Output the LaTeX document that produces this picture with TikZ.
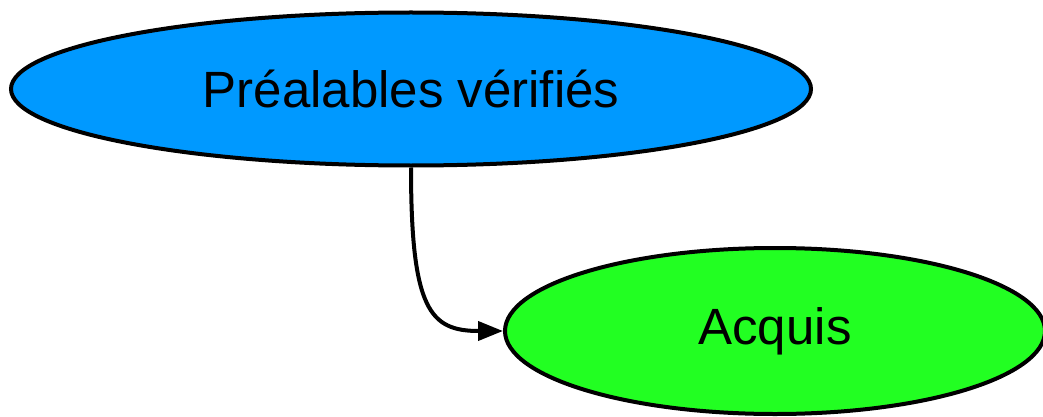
\documentclass[tikz,border=0pt]{standalone}
\usepackage{fontspec}
\setmainfont{Liberation Sans}
\usepackage{xcolor}
\usepackage{tikz}
\usetikzlibrary{shapes.geometric, arrows.meta, positioning}
\definecolor{prebleu}{RGB}{0,153,255}
\definecolor{acqvert}{RGB}{34,255,34}

\begin{document}
\begin{tikzpicture}[x=1pt, y=-1pt,
    etat/.style={ellipse, draw=black, line width=4pt, inner sep=0pt, font=\fontsize{51}{60}\selectfont},
    lien/.style={line width=4pt, -{Triangle[length=25pt, width=19pt]}}]
      \useasboundingbox (0,0) rectangle (1043,417);
      \node[etat, fill=prebleu, minimum width=800pt, minimum height=153pt] (pre) at (411,89) {Préalables vérifiés};
      \node[etat, fill=acqvert, minimum width=540pt, minimum height=166pt] (acq) at (775,331) {Acquis};

      \draw [lien] (pre.south) .. controls (411,310) and (430,331) .. (acq.west);
    \end{tikzpicture}
\end{document}
